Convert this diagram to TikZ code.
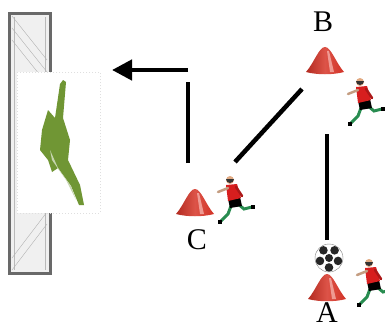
\documentclass[tikz,border=0pt]{standalone}
\usepackage{fontspec}
\setmainfont{Liberation Serif}
\usetikzlibrary{arrows.meta, calc}
\definecolor{conered}   {RGB}{210,  50,  38}
\definecolor{conepink}  {RGB}{245, 160, 150}
\definecolor{shirtred}  {RGB}{215,  30,  30}
\definecolor{sockgreen} {RGB}{ 40, 140,  80}
\definecolor{skin}      {RGB}{225, 170, 130}
\definecolor{keepgreen} {RGB}{112, 150,  52}
\definecolor{goalgray}  {RGB}{105, 105, 105}

\tikzset{
	run/.style={line width=4.5pt},
	lbl/.style={font=\fontsize{30}{30}\selectfont, inner sep=0pt},
	pics/cone/.style={code={
		\shade[left color=conered!85!black, right color=conered, middle color=conered!70!conepink]
			(-19,11) .. controls (-11,2) and (-6,-14) .. (0,-14)
			.. controls (6,-14) and (11,2) .. (19,11)
			.. controls (8,14) and (-8,14) .. cycle;
		\fill[conepink!70!white,opacity=0.7] (2,-10) -- (5,11) -- (9,11) -- (4,-10) -- cycle;
	}},
	pics/kicker/.style={code={
		% legs first, then shorts, shirt and head
		\draw[sockgreen,line width=3pt,line cap=round] (6,4) -- (12,9) -- (20,7);
		\fill[black] (19,5) rectangle (23,9);
		\draw[sockgreen,line width=3pt,line cap=round] (-1,6) -- (-4,14) -- (-11,21);
		\fill[black] (-14,20) rectangle (-10,24);
		\fill[black] (-4,-1) -- (8,-3) -- (10,6) -- (-2,8) -- cycle;
		\fill[shirtred] (-6,-15) -- (5,-16) -- (9,-2) -- (-4,1) -- cycle;
		\draw[skin!70!gray,line width=2.5pt,line cap=round] (-4,-12) -- (-14,-8);
		\draw[shirtred!80!black,line width=2.5pt,line cap=round] (4,-13) -- (10,-4);
		\fill[skin] (-2,-20) circle (4);
		\fill[black!80] (-6,-21) arc (180:0:4) -- cycle;
	}}
}

\begin{document}
\begin{tikzpicture}[x=1pt,y=-1pt]
	\useasboundingbox (0,0) rectangle (385,329);
	% goal frame with net
	\fill[gray!12] (9,14) rectangle (50,273);
	\draw[gray!55,thin] (14,17) -- (14,270) (45,17) -- (45,270);
	\foreach \y in {16,28,40} {\draw[gray!60] (12,\y) -- (47,\y+44);}
	\foreach \y in {270,258} {\draw[gray!60] (12,\y) -- (47,\y-46);}
	\draw[goalgray,line width=3pt] (9,14) rectangle (50,273);
	% keeper
	\fill[white] (17,72) rectangle (100,213);
	\draw[gray!25,dotted,line width=1pt] (17,72) rectangle (100,213);
	\fill[keepgreen] (63,80) -- (66,82) -- (63,118) -- (70,140) -- (68,160) -- (80,185)
		-- (84,205) -- (79,205) -- (71,186) -- (58,168) -- (52,172) -- (48,160)
		-- (40,150) -- (42,130) -- (48,110) -- (55,118) -- (60,84) -- cycle;
	\fill[keepgreen!40!white] (50,150) -- (58,168) -- (71,186) -- (76,200) -- (66,180) -- (52,160) -- cycle;
	% cones, ball and players
	\pic at (325,61) {cone};
	\pic at (195,203) {cone};
	\pic at (327,288) {cone};
	\pic at (362,102) {kicker};
	\pic at (232,200) {kicker};
	\pic at (371,283) {kicker};
	\fill[white] (329,258) circle (14);
	\foreach \a in {90,162,234,306,18} {\fill[black!85] ($(329,258)+(\a:9.5)$) circle (4.3);}
	\fill[black!85] (329,258) circle (4);
	\draw[black!50] (329,258) circle (14);
	% labels
	\node[lbl] (labB) at (323,22) {B};
	\node[lbl] (labC) at (197,240) {C};
	\node[lbl] (labA) at (327,313) {A};
	% runs and passes
	\coordinate (kB) at (302,89);
	\coordinate (kC) at (235,162);
	\coordinate (upA) at (327,240);
	\coordinate (upA2) at (327,134);
	\coordinate (upC) at (188,163);
	\coordinate (upC2) at (188,82);
	\coordinate (turn) at (188,70);
	\coordinate (shot) at (112,70);
	\draw[run] (upA) -- (upA2);
	\draw[run] (kC) -- (kB);
	\draw[run] (upC) -- (upC2);
	\draw[run,-{Triangle[length=20pt,width=20pt]}] (turn) -- (shot);
\end{tikzpicture}
\end{document}
